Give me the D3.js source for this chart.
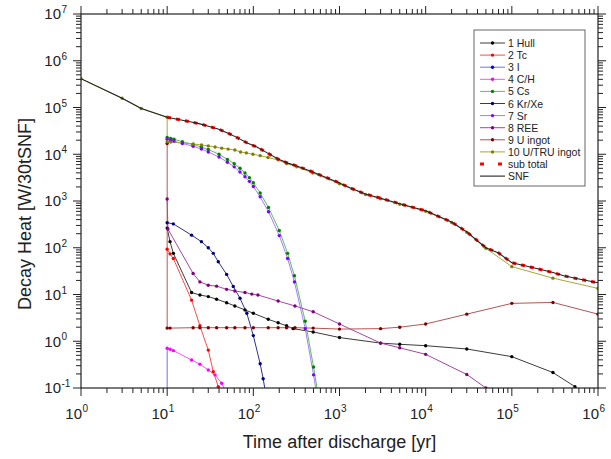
<!DOCTYPE html>
<html><head><meta charset="utf-8">
<script src="https://cdn.jsdelivr.net/npm/d3@7"></script>
<style>body{margin:0;background:#fff}svg{display:block}text{font-family:Arial,"Liberation Sans",sans-serif}</style>
</head><body>
<svg id="c" width="611" height="459"></svg>
<script>
// ---- data: [time (yr), decay heat (W/30tSNF)] ----
const hull = [[10,263],[10.8,135],[11.8,75.9],[19.2,11.0],[24,9.77],[30,9.02],[37.5,7.94],[49,6.68],[61,5.69],[80,4.68],[100,3.98],[149,2.95],[194,2.48],[243,2.14],[290,1.86],[495,1.58],[1000,1.20],[3000,0.912],[5000,0.861],[10000,0.804],[30000,0.684],[100000,0.468],[300000,0.214],[540000,0.107],[800000,0.0501]];
const tc = [[10,93.3],[10.8,74.1],[11.8,58.9],[19.2,7.59],[24,2.14],[30,0.646],[34.3,0.224],[39.2,0.107],[44,0.0501]];
const iodine = [[10,0.001],[10,0.7]];
const ch = [[10,0.708],[10.8,0.676],[11.8,0.631],[19.2,0.398],[24,0.324],[30,0.243],[35.9,0.191],[42.9,0.126],[50,0.0708]];
const cs = [[10,22900],[11,21900],[12,20900],[15,18600],[20,16200],[25,14100],[30,12600],[40,10000],[50,7760],[60,6310],[70,5010],[80,3980],[90,3160],[100,2450],[120,1480],[150,724],[200,234],[250,75.9],[300,25.1],[400,2.69],[500,0.282],[560,0.0794]];
const krxe = [[10,343],[11.8,324],[19.2,186],[25,135],[30,100],[34.3,75.9],[39.2,50.1],[49,26.9],[58.5,14.8],[70,8.32],[84,3.98],[100,1.32],[120,0.331],[130,0.158],[140,0.0708]];
const sr = [[10,20900],[11,20000],[12,19100],[15,17000],[20,14800],[25,12900],[30,11200],[40,8710],[50,6760],[60,5370],[70,4170],[80,3310],[90,2630],[100,2040],[120,1230],[150,589],[200,182],[250,58.9],[300,18.6],[400,1.86],[500,0.191],[540,0.0794]];
const ree = [[10,1100],[10.2,251],[20,28.2],[24,18.6],[30,15.8],[37.5,15.1],[49,12.9],[61,11.9],[80,11.0],[96,10.2],[113,9.77],[194,7.24],[304,5.69],[495,4.27],[1000,2.34],[3000,0.912],[5000,0.724],[10000,0.525],[30000,0.195],[50000,0.1],[70000,0.0562]];
const uIngot = [[10,17000],[10,1.91],[10.8,1.91],[20,1.95],[24,1.95],[30,1.95],[37.5,1.95],[49,1.95],[61,1.95],[80,1.95],[100,1.95],[149,1.95],[194,1.95],[243,1.95],[304,1.95],[495,1.91],[1000,1.82],[3000,1.86],[5000,2.0],[10000,2.34],[30000,3.80],[100000,6.46],[300000,6.76],[1000000,3.80]];
const uTru = [[1,413000],[3,158000],[5,95500],[10,61700],[10,18600],[11,18200],[20,16600],[25,15800],[30,15100],[36,14300],[43,13500],[51,12900],[61,12300],[71,11200],[83,10700],[99,10000],[120,9330],[148,8510],[193,7590],[243,6310],[320,5370],[490,3980],[1000,2340],[2000,1380],[3000,1120],[5000,851],[10000,603],[20000,347],[30000,214],[50000,97.7],[100000,39.4],[300000,22.4],[1000000,13.5]];
const subTotal = [[10,61700],[19,49000],[24,44700],[30,39800],[39,34700],[51,28200],[66,22400],[85,17400],[110,14300],[145,10700],[193,7940],[252,6460],[320,5620],[490,4170],[645,3390],[1000,2430],[1320,1910],[2000,1410],[3000,1150],[5000,871],[10000,617],[20000,355],[30000,219],[50000,100],[70000,77.6],[100000,47.9],[130000,42.7],[200000,35.5],[300000,29.5],[400000,25.1],[600000,21.4],[1000000,17.8]];
const snf = [[1,413000],[3,158000],[5,95500],[10,61700],[19,49000],[24,44700],[30,39800],[39,34700],[51,28200],[66,22400],[85,17400],[110,14300],[145,10700],[193,7940],[252,6460],[320,5620],[490,4170],[645,3390],[1000,2430],[1320,1910],[2000,1410],[3000,1150],[5000,871],[10000,617],[20000,355],[30000,219],[50000,100],[70000,77.6],[100000,47.9],[130000,42.7],[200000,35.5],[300000,29.5],[400000,25.1],[600000,21.4],[1000000,17.8]];

const seriesNames = ["1 Hull","2 Tc","3 I","4 C/H","5 Cs","6 Kr/Xe","7 Sr","8 REE","9 U ingot","10 U/TRU ingot","sub total","SNF"];
const xTickExps = [0,1,2,3,4,5,6];
const yTickExps = [-1,0,1,2,3,4,5,6,7];

const series = [
  {data:hull, line:"#3c3c3c", mark:"#000000", markers:true},
  {data:tc, line:"#ff4a4a", mark:"#ff0000", markers:true},
  {data:iodine, line:"#7070ff", mark:"#0000ff", markers:false},
  {data:ch, line:"#ff4dff", mark:"#ff00ff", markers:true},
  {data:cs, line:"#62bb62", mark:"#008000", markers:true},
  {data:krxe, line:"#303095", mark:"#000080", markers:true},
  {data:sr, line:"#a77cff", mark:"#8000ff", markers:true},
  {data:ree, line:"#a448a4", mark:"#800080", markers:true},
  {data:uIngot, line:"#b55555", mark:"#800000", markers:true},
  {data:uTru, line:"#a8a838", mark:"#808000", markers:true}
];

const svg = d3.select("#c");
const L=81, R=598, T=14, B=388;
const x = d3.scaleLog().domain([1,1e6]).range([L,R]);
const y = d3.scaleLog().domain([0.1,1e7]).range([B,T]);

svg.append("defs").append("clipPath").attr("id","clip")
  .append("rect").attr("x",L).attr("y",T).attr("width",R-L).attr("height",B-T);

const line = d3.line().x(d=>x(d[0])).y(d=>y(d[1]));
const plot = svg.append("g").attr("clip-path","url(#clip)");

series.forEach(s=>{
  plot.append("path").attr("d",line(s.data)).attr("fill","none")
    .attr("stroke",s.line).attr("stroke-width",1);
});
series.forEach(s=>{
  if(!s.markers) return;
  plot.append("g").selectAll("circle").data(s.data).join("circle")
    .attr("cx",d=>x(d[0])).attr("cy",d=>y(d[1])).attr("r",1.7).attr("fill",s.mark);
});
plot.append("path").attr("d",line(subTotal)).attr("fill","none")
  .attr("stroke","#ff0000").attr("stroke-width",3).attr("stroke-dasharray","4,5");
plot.append("path").attr("d",line(snf)).attr("fill","none")
  .attr("stroke","#222").attr("stroke-width",1.1);

// frame
const ax = svg.append("g").attr("stroke","#222").attr("stroke-width",1.2);
ax.append("rect").attr("x",L).attr("y",T).attr("width",R-L).attr("height",B-T).attr("fill","none");

// ticks (outward on all sides)
const xMaj = xTickExps.map(e=>Math.pow(10,e));
const yMaj = yTickExps.map(e=>Math.pow(10,e));
const minors = (exps)=>{const r=[];for(let i=0;i<exps.length-1;i++)for(let k=2;k<10;k++)r.push(k*Math.pow(10,exps[i]));return r;};
const xMin = minors(xTickExps), yMin = minors(yTickExps);
const tk = svg.append("g").attr("stroke","#222").attr("stroke-width",1);
xMaj.forEach(v=>{const px=x(v);
  tk.append("line").attr("x1",px).attr("x2",px).attr("y1",B).attr("y2",B+8);
  tk.append("line").attr("x1",px).attr("x2",px).attr("y1",T).attr("y2",T-8);});
xMin.forEach(v=>{const px=x(v);
  tk.append("line").attr("x1",px).attr("x2",px).attr("y1",B).attr("y2",B+5);
  tk.append("line").attr("x1",px).attr("x2",px).attr("y1",T).attr("y2",T-5);});
yMaj.forEach(v=>{const py=y(v);
  tk.append("line").attr("x1",L).attr("x2",L-8).attr("y1",py).attr("y2",py);
  tk.append("line").attr("x1",R).attr("x2",R+8).attr("y1",py).attr("y2",py);});
yMin.forEach(v=>{const py=y(v);
  tk.append("line").attr("x1",L).attr("x2",L-5).attr("y1",py).attr("y2",py);
  tk.append("line").attr("x1",R).attr("x2",R+5).attr("y1",py).attr("y2",py);});

// tick labels
xTickExps.forEach(e=>{const px=x(Math.pow(10,e));
  svg.append("text").attr("x",px+1).attr("y",419).attr("text-anchor","end").attr("font-size",15).attr("fill","#222").text("10");
  svg.append("text").attr("x",px+1.5).attr("y",412).attr("font-size",10).attr("fill","#222").text(e);});
yTickExps.forEach(e=>{const py=y(Math.pow(10,e));
  svg.append("text").attr("x",61).attr("y",py+5.4).attr("text-anchor","end").attr("font-size",15).attr("fill","#222").text("10");
  svg.append("text").attr("x",61.5).attr("y",py-1).attr("font-size",10).attr("fill","#222").text(e);});

// axis titles
svg.append("text").attr("x",(L+R)/2).attr("y",448).attr("text-anchor","middle").attr("font-size",18).attr("fill","#222").text("Time after discharge [yr]");
svg.append("text").attr("transform","translate(31,214) rotate(-90)").attr("text-anchor","middle").attr("font-size",18).attr("fill","#222").text("Decay Heat [W/30tSNF]");

// legend
const lg = svg.append("g");
lg.append("rect").attr("x",474).attr("y",30).attr("width",111).attr("height",156).attr("fill","#fff").attr("stroke","#666").attr("stroke-width",1);
seriesNames.forEach((n,i)=>{
  const ly = 43 + i*12.1;
  if(i<10){
    const s = series[i];
    lg.append("line").attr("x1",480).attr("x2",505).attr("y1",ly).attr("y2",ly).attr("stroke",s.line).attr("stroke-width",1);
    lg.append("circle").attr("cx",492.5).attr("cy",ly).attr("r",1.7).attr("fill",s.mark);
  } else if(i===10){
    lg.append("line").attr("x1",480).attr("x2",505).attr("y1",ly).attr("y2",ly).attr("stroke","#ff0000").attr("stroke-width",3).attr("stroke-dasharray","4,14");
  } else {
    lg.append("line").attr("x1",480).attr("x2",505).attr("y1",ly).attr("y2",ly).attr("stroke","#222").attr("stroke-width",1.1);
  }
  lg.append("text").attr("x",508).attr("y",ly+4).attr("font-size",10.5).attr("fill","#222").text(n);
});
</script>
</body></html>
